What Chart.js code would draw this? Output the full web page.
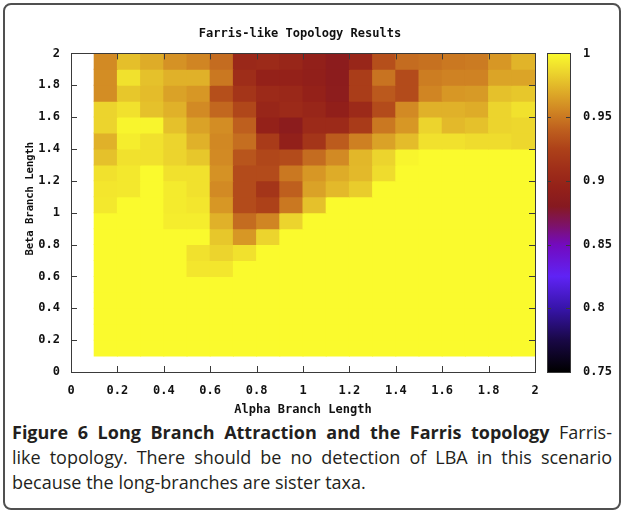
<!DOCTYPE html>
<html>
<head>
<meta charset="utf-8">
<script src="https://cdn.jsdelivr.net/npm/chart.js@4.4.1/dist/chart.umd.min.js"></script>
<style>
    html, body { margin: 0; padding: 0; background: #fff; }
    body { width: 624px; height: 513px; position: relative; overflow: hidden; }
    #frame { position: absolute; left: 3px; top: 3px; width: 614px; height: 503px; border: 2px solid #505050; border-radius: 8px; }
    #plot { position: absolute; left: 0; top: 0; width: 624px; height: 420px; }
    #caption { position: absolute; left: 12px; top: 420px; width: 600px; font-family: "Open Sans", sans-serif; font-size: 18px; line-height: 25px; color: #231f20; }
    #caption .line { white-space: nowrap; text-align: justify; text-align-last: justify; }
    #caption .last { text-align: left; text-align-last: left; }
</style>
</head>
<body>
<div id="frame"></div>
<div id="plot"><canvas id="chart" width="624" height="420"></canvas></div>
<div id="caption">
    <div class="line"><b>Figure 6 Long Branch Attraction and the Farris topology</b> Farris-</div>
    <div class="line">like topology. There should be no detection of LBA in this scenario</div>
    <div class="line last">because the long-branches are sister taxa.</div>
</div>
<script>
// cell centres (each cell is 0.1 wide / tall)
const alphaCenters = [0.15, 0.25, 0.35, 0.45, 0.55, 0.65, 0.75, 0.85, 0.95, 1.05, 1.15, 1.25, 1.35, 1.45, 1.55, 1.65, 1.75, 1.85, 1.95];
const betaCenters = [1.95, 1.85, 1.75, 1.65, 1.55, 1.45, 1.35, 1.25, 1.15, 1.05, 0.95, 0.85, 0.75, 0.65, 0.55, 0.45, 0.35, 0.25, 0.15];

// one row per beta value, top row first, left to right along alpha
const scoreRows = [
    [0.957, 0.977, 0.970, 0.960, 0.955, 0.945, 0.903, 0.905, 0.900, 0.893, 0.886, 0.900, 0.932, 0.945, 0.947, 0.950, 0.951, 0.962, 0.973],
    [0.958, 0.990, 0.978, 0.972, 0.972, 0.950, 0.908, 0.895, 0.895, 0.892, 0.886, 0.922, 0.948, 0.930, 0.952, 0.954, 0.954, 0.967, 0.967],
    [0.958, 0.980, 0.976, 0.966, 0.962, 0.932, 0.915, 0.905, 0.903, 0.895, 0.887, 0.922, 0.937, 0.930, 0.955, 0.962, 0.963, 0.978, 0.980],
    [0.985, 0.990, 0.978, 0.972, 0.957, 0.943, 0.928, 0.900, 0.905, 0.900, 0.892, 0.905, 0.930, 0.957, 0.972, 0.972, 0.970, 0.985, 0.990],
    [0.985, 0.998, 0.998, 0.978, 0.966, 0.958, 0.940, 0.895, 0.886, 0.905, 0.905, 0.920, 0.950, 0.962, 0.985, 0.975, 0.978, 0.985, 0.986],
    [0.972, 0.995, 0.990, 0.985, 0.972, 0.956, 0.946, 0.920, 0.893, 0.915, 0.938, 0.953, 0.966, 0.976, 0.990, 0.990, 0.988, 0.988, 0.986],
    [0.978, 0.990, 0.990, 0.985, 0.980, 0.957, 0.935, 0.928, 0.930, 0.945, 0.957, 0.974, 0.985, 0.998, 1, 1, 1, 1, 1],
    [0.990, 0.993, 1.000, 0.990, 0.990, 0.960, 0.930, 0.930, 0.950, 0.962, 0.970, 0.975, 0.988, 1, 1, 1, 1, 1, 1],
    [0.992, 0.993, 1.000, 0.994, 0.990, 0.957, 0.930, 0.915, 0.940, 0.966, 0.975, 0.982, 1, 1, 1, 1, 1, 1, 1],
    [0.993, 1, 1, 0.994, 0.992, 0.962, 0.930, 0.925, 0.950, 0.978, 1, 1, 1, 1, 1, 1, 1, 1, 1],
    [1, 1, 1, 0.995, 0.995, 0.972, 0.945, 0.955, 0.985, 1, 1, 1, 1, 1, 1, 1, 1, 1, 1],
    [1, 1, 1, 1, 1, 0.980, 0.962, 0.985, 1, 1, 1, 1, 1, 1, 1, 1, 1, 1, 1],
    [1, 1, 1, 1, 0.990, 0.985, 0.990, 1, 1, 1, 1, 1, 1, 1, 1, 1, 1, 1, 1],
    [1, 1, 1, 1, 0.992, 0.992, 1, 1, 1, 1, 1, 1, 1, 1, 1, 1, 1, 1, 1],
    [1, 1, 1, 1, 1, 1, 1, 1, 1, 1, 1, 1, 1, 1, 1, 1, 1, 1, 1],
    [1, 1, 1, 1, 1, 1, 1, 1, 1, 1, 1, 1, 1, 1, 1, 1, 1, 1, 1],
    [1, 1, 1, 1, 1, 1, 1, 1, 1, 1, 1, 1, 1, 1, 1, 1, 1, 1, 1],
    [1, 1, 1, 1, 1, 1, 1, 1, 1, 1, 1, 1, 1, 1, 1, 1, 1, 1, 1],
    [1, 1, 1, 1, 1, 1, 1, 1, 1, 1, 1, 1, 1, 1, 1, 1, 1, 1, 1]
];

const xTickValues = [0, 0.2, 0.4, 0.6, 0.8, 1, 1.2, 1.4, 1.6, 1.8, 2];
const yTickValues = [0, 0.2, 0.4, 0.6, 0.8, 1, 1.2, 1.4, 1.6, 1.8, 2];
const colorTickValues = [0.75, 0.8, 0.85, 0.9, 0.95, 1];
const yTitle = 'Beta Branch Length';

// palette as seen on the colour box: value, r, g, b
const paletteStops = [
    [0.75, 0, 0, 0],
    [0.775, 25, 8, 70],
    [0.8, 55, 20, 170],
    [0.825, 95, 35, 245],
    [0.85, 115, 10, 190],
    [0.865, 125, 18, 105],
    [0.88, 134, 25, 32],
    [0.895, 148, 33, 25],
    [0.91, 160, 47, 25],
    [0.925, 173, 65, 25],
    [0.94, 190, 95, 30],
    [0.955, 208, 133, 35],
    [0.97, 222, 172, 40],
    [0.985, 236, 212, 45],
    [1.0, 250, 250, 45]
];

const monoFont = { family: '"DejaVu Sans Mono", monospace', size: 12, weight: 'bold' };

function paletteColor(v) {
    if (v <= paletteStops[0][0]) return `rgb(${paletteStops[0].slice(1).join(',')})`;
    for (let i = 1; i < paletteStops.length; i++) {
        const a = paletteStops[i - 1], b = paletteStops[i];
        if (v <= b[0]) {
            const t = (v - a[0]) / (b[0] - a[0]);
            const c = [1, 2, 3].map(k => Math.round(a[k] + (b[k] - a[k]) * t));
            return `rgb(${c.join(',')})`;
        }
    }
    const last = paletteStops[paletteStops.length - 1];
    return `rgb(${last.slice(1).join(',')})`;
}

function fmt(v) {
    return String(parseFloat(Number(v).toFixed(2)));
}

const datasets = betaCenters.map((beta, r) => ({
    label: 'beta ' + beta,
    data: alphaCenters.map(a => ({ x: a, y: [beta - 0.05, beta + 0.05] })),
    backgroundColor: scoreRows[r].map(paletteColor),
    borderWidth: 0,
    inflateAmount: 0.5,
    grouped: false,
    categoryPercentage: 1,
    barPercentage: 1
}));

// border box with inward ticks (gnuplot style), the colour box and the rotated y title
const gnuplotFrame = {
    id: 'gnuplotFrame',
    afterDatasetsDraw(chart) {
        const { ctx, chartArea: area, scales } = chart;
        const tick = 6;
        ctx.save();
        ctx.strokeStyle = '#3a3a3a';
        ctx.lineWidth = 1;
        ctx.beginPath();
        xTickValues.forEach(v => {
            const px = Math.round(scales.x.getPixelForValue(v)) + 0.5;
            ctx.moveTo(px, area.bottom); ctx.lineTo(px, area.bottom - tick);
            ctx.moveTo(px, area.top); ctx.lineTo(px, area.top + tick);
        });
        yTickValues.forEach(v => {
            const py = Math.round(scales.y.getPixelForValue(v)) + 0.5;
            ctx.moveTo(area.left, py); ctx.lineTo(area.left + tick, py);
            ctx.moveTo(area.right, py); ctx.lineTo(area.right - tick, py);
        });
        ctx.stroke();
        ctx.strokeRect(Math.round(area.left) + 0.5, Math.round(area.top) + 0.5,
            Math.round(area.right - area.left), Math.round(area.bottom - area.top));

        // colour box
        const cb = scales.yc;
        const x0 = Math.round(cb.left + 12);
        const w = 23;
        const yTop = cb.getPixelForValue(1);
        const yBot = cb.getPixelForValue(0.75);
        const grad = ctx.createLinearGradient(0, yBot, 0, yTop);
        paletteStops.forEach(s => grad.addColorStop((s[0] - 0.75) / 0.25, paletteColor(s[0])));
        ctx.fillStyle = grad;
        ctx.fillRect(x0, yTop, w, yBot - yTop);
        ctx.strokeStyle = '#3a3a3a';
        ctx.strokeRect(x0 + 0.5, Math.round(yTop) + 0.5, w, Math.round(yBot - yTop));
        ctx.beginPath();
        colorTickValues.forEach(v => {
            const py = Math.round(cb.getPixelForValue(v)) + 0.5;
            ctx.moveTo(x0, py); ctx.lineTo(x0 + 4, py);
            ctx.moveTo(x0 + w, py); ctx.lineTo(x0 + w - 4, py);
        });
        ctx.stroke();

        ctx.fillStyle = '#111';
        ctx.font = `bold ${monoFont.size}px ${monoFont.family}`;
        ctx.textAlign = 'left';
        ctx.textBaseline = 'middle';
        colorTickValues.forEach(v => {
            ctx.fillText(fmt(v), x0 + w + 13, cb.getPixelForValue(v));
        });

        // y title, slightly above the axis middle like the original
        ctx.font = `bold 10.5px ${monoFont.family}`;
        ctx.textAlign = 'center';
        ctx.translate(30, (area.top + area.bottom) / 2 - 14);
        ctx.rotate(-Math.PI / 2);
        ctx.fillText(yTitle, 0, 0);
        ctx.restore();
    }
};

new Chart(document.getElementById('chart'), {
    type: 'bar',
    data: { datasets },
    options: {
        responsive: false,
        animation: false,
        layout: { padding: { left: 0, right: 24, top: 0, bottom: 0 } },
        plugins: {
            legend: { display: false },
            tooltip: { enabled: false },
            title: {
                display: true,
                text: 'Farris-like Topology Results',
                color: '#111',
                font: monoFont,
                padding: { top: 27, bottom: 12 }
            }
        },
        scales: {
            x: {
                type: 'linear',
                min: 0, max: 2,
                offset: false,
                grid: { display: false, drawTicks: false, offset: false },
                border: { display: false },
                afterBuildTicks: s => { s.ticks = xTickValues.map(v => ({ value: v })); },
                afterFit: s => { s.height = 48; },
                ticks: { color: '#111', font: monoFont, padding: 12, maxRotation: 0, autoSkip: false, callback: fmt },
                title: { display: true, text: 'Alpha Branch Length', color: '#111', font: monoFont, padding: { top: 0, bottom: 3 } }
            },
            y: {
                type: 'linear',
                position: 'left',
                min: 0, max: 2,
                grid: { display: false, drawTicks: false },
                border: { display: false },
                afterBuildTicks: s => { s.ticks = yTickValues.map(v => ({ value: v })); },
                afterFit: s => { s.width = 71; },
                ticks: { color: '#111', font: monoFont, padding: 11, autoSkip: false, callback: fmt }
            },
            yc: {
                type: 'linear',
                position: 'right',
                min: 0.75, max: 1,
                grid: { display: false, drawTicks: false },
                border: { display: false },
                ticks: { display: false },
                afterFit: s => { s.width = 65; }
            }
        }
    },
    plugins: [gnuplotFrame]
});
</script>
</body>
</html>
